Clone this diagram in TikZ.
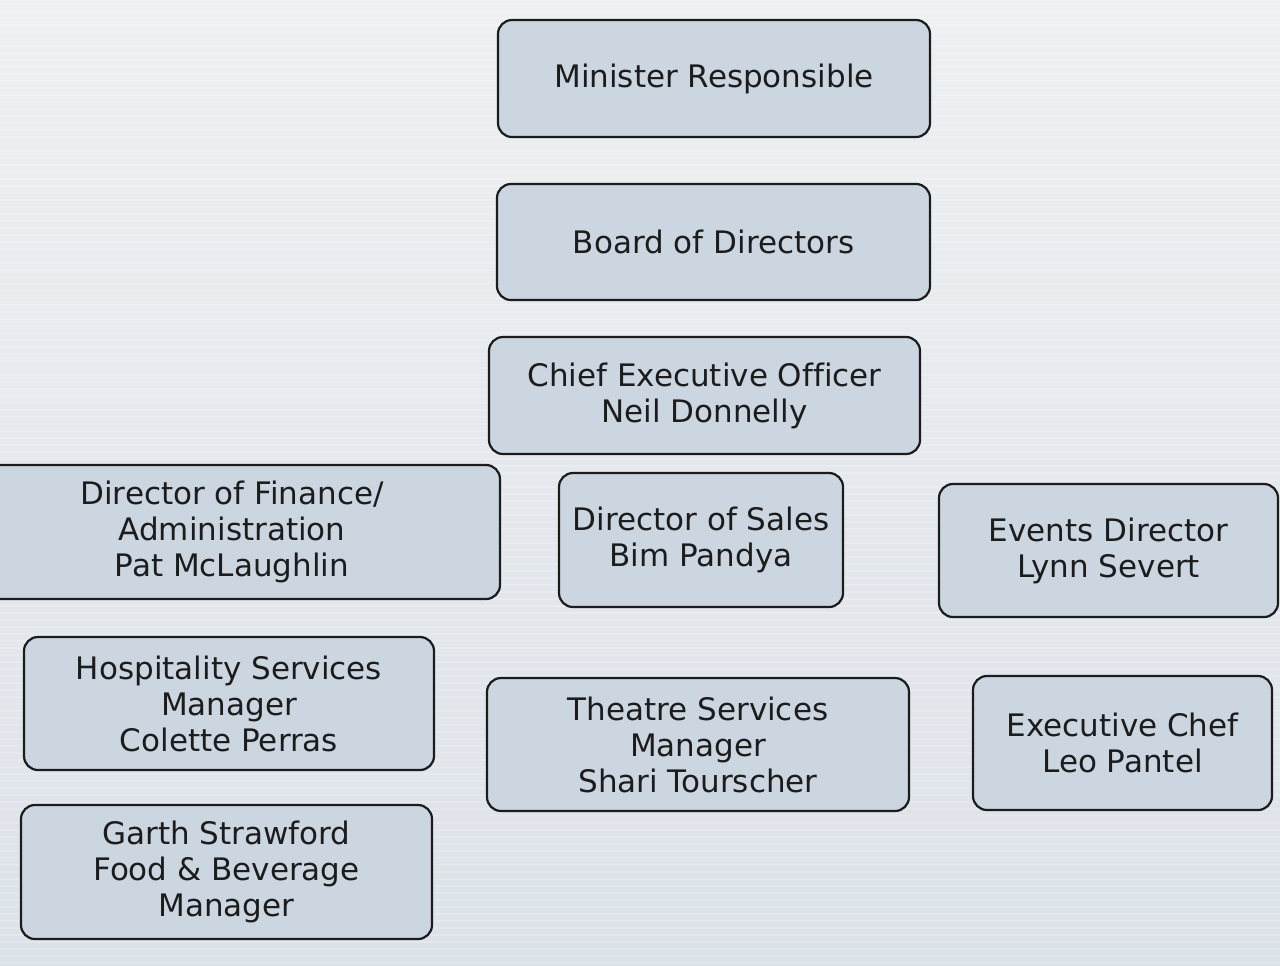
\documentclass[tikz,border=0pt]{standalone}
\usepackage{fontspec}
\setmainfont[Ligatures=NoCommon]{DejaVu Sans}
\definecolor{bgtop}{HTML}{EEF0F2}
\definecolor{bgbot}{HTML}{DCE2E9}
\definecolor{boxfill}{HTML}{CCD6E1}
\definecolor{ink}{HTML}{1C1C1C}
\tikzset{
  orgbox/.style={draw=ink, line width=1.1pt, rounded corners=7pt, fill=boxfill,
    align=center, inner sep=0pt, text=ink,
    font=\fontsize{15.5pt}{18pt}\selectfont},
}
\begin{document}
\begin{tikzpicture}[x=0.5pt,y=-0.5pt]
\clip (0,0) rectangle (1280,965);
\shade[top color=bgtop, bottom color=bgbot] (0,0) rectangle (1280,965);
\foreach \yy in {4,11,...,965} {
  \draw[white, opacity=0.18, line width=0.8pt] (0,\yy) -- (1280,\yy);
}
\node[orgbox, minimum width=216pt, minimum height=58.5pt] (minister) at (714,78.5) {Minister Responsible};
\node[orgbox, minimum width=216.5pt, minimum height=58pt] (board) at (713.5,242) {Board of Directors};
\node[orgbox, minimum width=215.5pt, minimum height=58.5pt] (ceo) at (704.5,395.5) {Chief Executive Officer\\Neil Donnelly};
\node[orgbox, minimum width=268pt, minimum height=67pt] (finance) at (232,532) {Director of Finance/\\Administration\\Pat McLaughlin};
\node[orgbox, minimum width=142pt, minimum height=67pt] (sales) at (701,540) {Director of Sales\\Bim Pandya};
\node[orgbox, minimum width=169.5pt, minimum height=66.5pt] (events) at (1108.5,550.5) {Events Director\\Lynn Severt};
\node[orgbox, minimum width=205pt, minimum height=66.5pt] (hospitality) at (229,703.5) {Hospitality Services\\Manager\\Colette Perras};
\node[orgbox, minimum width=211pt, minimum height=66.5pt] (theatre) at (698,744.5) {Theatre Services\\Manager\\Shari Tourscher};
\node[orgbox, minimum width=149.5pt, minimum height=67pt] (chef) at (1122.5,743) {Executive Chef\\Leo Pantel};
\node[orgbox, minimum width=205.5pt, minimum height=67pt] (garth) at (226.5,872) {Garth Strawford\\Food \& Beverage\\Manager};
\end{tikzpicture}
\end{document}
